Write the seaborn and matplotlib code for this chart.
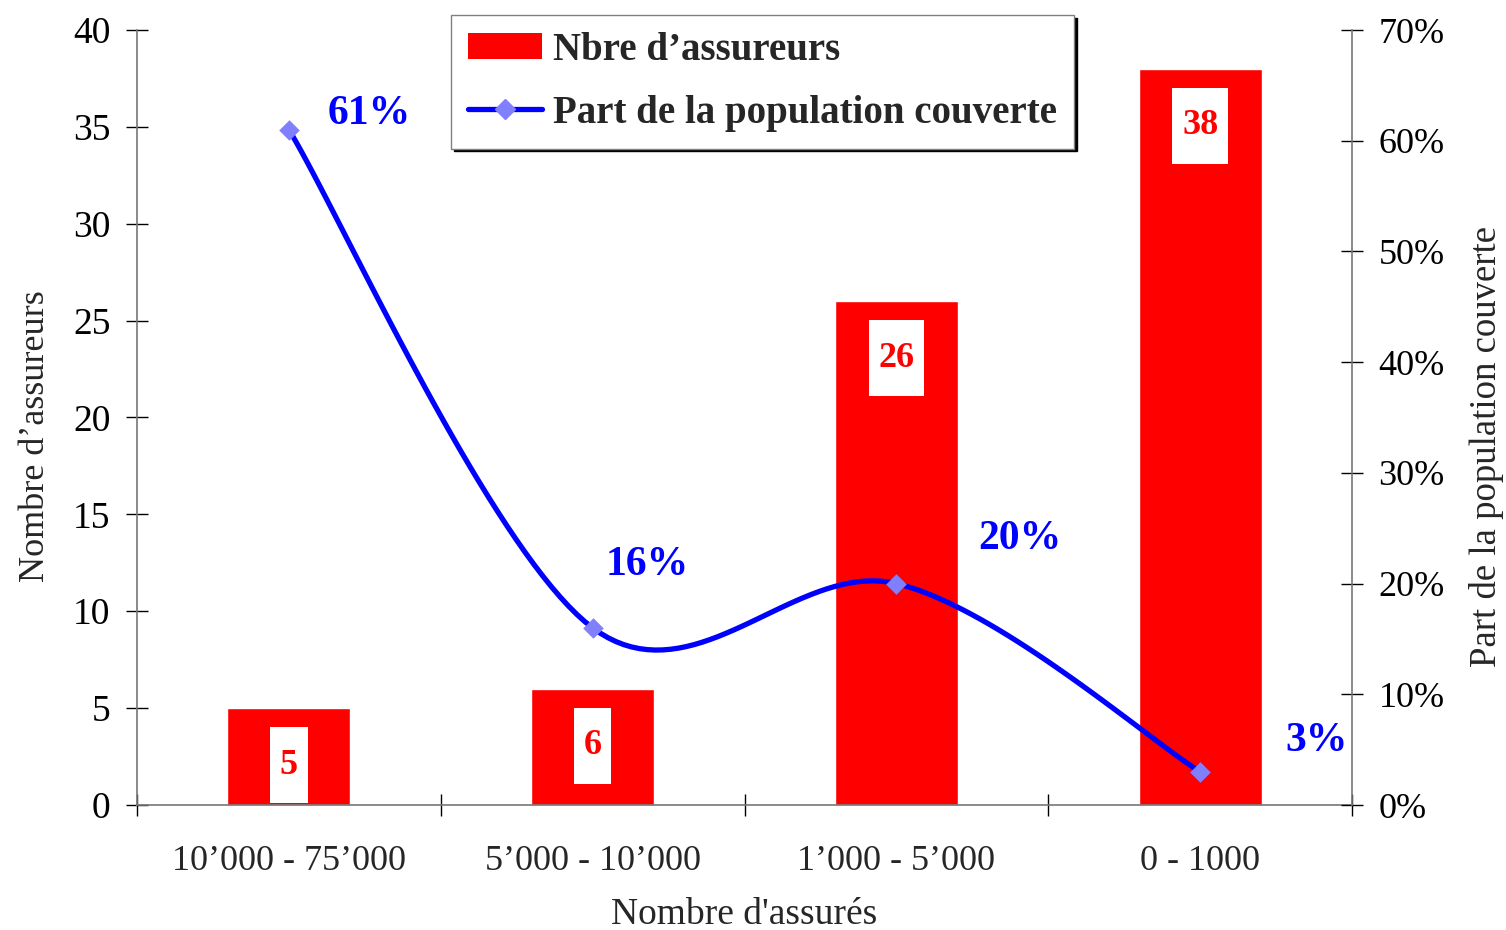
import numpy as np
import matplotlib
matplotlib.use("Agg")
import matplotlib.pyplot as plt
from matplotlib.path import Path
from matplotlib.lines import Line2D
from matplotlib.patches import Patch
from matplotlib.ticker import PercentFormatter
import seaborn as sns

## Data
categories = ["10’000 - 75’000", "5’000 - 10’000", "1’000 - 5’000", "0 - 1000"]
insurers = [5, 6, 26, 38]
coverage = [0.61, 0.16, 0.20, 0.03]
coverage_labels = ["61%", "16%", "20%", "3%"]

## Style
sns.set_theme(style="white")
plt.rcParams["font.family"] = ["Liberation Serif", "DejaVu Serif"]

RED = "#FF0000"
BLUE = "#0000FF"
MARK = "#8080FF"
SPINE = "#777777"


# Excel-like smoothed line (bezier through the data points)
def smooth(xs, ys, steps=40):
    pts = np.column_stack([xs, ys]).astype(float)
    pad = np.vstack([pts[:1], pts, pts[-1:]])
    t = np.linspace(0, 1, steps)[:, None]
    out = []
    for i in range(len(pts) - 1):
        p0, p3 = pad[i + 1], pad[i + 2]
        p1 = p0 + (pad[i + 2] - pad[i]) / 6
        p2 = p3 - (pad[i + 3] - pad[i + 1]) / 6
        seg = ((1 - t) ** 3) * p0 + 3 * ((1 - t) ** 2) * t * p1 + 3 * (1 - t) * t ** 2 * p2 + t ** 3 * p3
        out.append(seg if i == 0 else seg[1:])
    out = np.vstack(out)
    return out[:, 0], out[:, 1]


# white label box, taller than wide
def label_box(x0, y0, width, height, mutation_size):
    px, py = 0.27 * mutation_size, 0.6 * mutation_size
    verts = [(x0 - px, y0 - py), (x0 + width + px, y0 - py),
             (x0 + width + px, y0 + height + py), (x0 - px, y0 + height + py),
             (x0 - px, y0 - py)]
    return Path(verts, closed=True)


fig = plt.figure(figsize=(15.06, 9.30), dpi=100)
ax = fig.add_axes([137 / 1506, 1 - 805 / 930, (1352 - 137) / 1506, (805 - 30) / 930])

## Bars
sns.barplot(x=categories, y=insurers, color=RED, saturation=1, width=0.405, ax=ax)
for x, v in enumerate(insurers):
    ax.annotate(str(v), (x, v), xytext=(0, -41), textcoords="offset points",
                ha="center", va="center", color=RED, fontweight="bold", fontsize=26,
                bbox=dict(boxstyle=label_box, facecolor="white", edgecolor="none"))

ax.set_ylim(0, 40)
ax.set_yticks(range(0, 41, 5))
ax.set_xlim(-0.5, 3.5)
ax.set_xticks(range(len(categories)))
ax.set_xticks(np.arange(-0.5, 4, 1), minor=True)
ax.tick_params(axis="y", left=True, direction="inout", length=16, width=1,
               colors="black", labelsize=27, pad=11)
ax.tick_params(axis="x", which="major", bottom=True, length=0, labelsize=26, pad=29)
ax.tick_params(axis="x", which="minor", bottom=True, direction="inout", length=16, width=1, color="black")
ax.set_xlabel("Nombre d'assurés", fontsize=27)
ax.set_ylabel("Nombre d’assureurs", fontsize=26)
ax.xaxis.set_label_coords(0.4996, -0.119)
ax.yaxis.set_label_coords(-0.070, 0.476)
for side in ["top", "right"]:
    ax.spines[side].set_visible(False)
for side in ["left", "bottom"]:
    ax.spines[side].set_color(SPINE)
    ax.spines[side].set_linewidth(1.2)

## Line on secondary axis
ax2 = ax.twinx()
cx, cy = smooth(range(len(coverage)), coverage)
sns.lineplot(x=cx, y=cy, sort=False, estimator=None, color=BLUE, linewidth=3.8, ax=ax2)
sns.scatterplot(x=range(len(coverage)), y=coverage, marker="D", s=110, color=MARK,
                edgecolor=MARK, linewidth=0, zorder=5, ax=ax2)

label_offsets = [(58, 11), (39, 45), (89, 32), (84, 22)]
for x, (v, txt) in enumerate(zip(coverage, coverage_labels)):
    ax2.annotate(txt, (x, v), xytext=label_offsets[x], textcoords="offset points",
                 ha="center", va="center", color=BLUE, fontweight="bold", fontsize=30)

ax2.set_ylim(0, 0.7)
ax2.set_yticks(np.arange(0, 0.71, 0.1))
ax2.yaxis.set_major_formatter(PercentFormatter(1, decimals=0))
ax2.tick_params(axis="y", right=True, direction="inout", length=16, width=1,
                colors="black", labelsize=26, pad=11)
ax2.set_ylabel("Part de la population couverte", fontsize=26.5)
ax2.yaxis.set_label_coords(1.096, 0.463)
ax2.set_xlim(-0.5, 3.5)
for side in ["top", "left", "bottom"]:
    ax2.spines[side].set_visible(False)
ax2.spines["right"].set_color(SPINE)
ax2.spines["right"].set_linewidth(1.2)

## Legend
handles = [Patch(facecolor=RED, edgecolor="none", label="Nbre d’assureurs"),
           Line2D([], [], color=BLUE, lw=3.8, marker="D", markersize=10.5,
                  markerfacecolor=MARK, markeredgecolor=MARK, label="Part de la population couverte")]
ax2.legend(handles=handles, loc="upper left", bbox_to_anchor=(451 / 1506, 1 - 15 / 930),
           bbox_transform=fig.transFigure, prop={"weight": "bold", "size": 28},
           frameon=True, fancybox=False, framealpha=1, edgecolor="#808080",
           shadow={"facecolor": "black", "edgecolor": "black", "alpha": 1},
           borderpad=0.43, labelspacing=0.67, handlelength=1.9, handleheight=0.65,
           handletextpad=0.3, borderaxespad=0)

fig.savefig("out.png", dpi=100, facecolor="white")
